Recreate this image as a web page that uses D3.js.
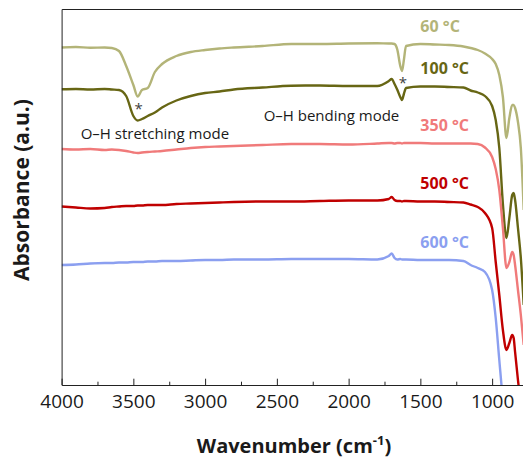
<!DOCTYPE html>
<html><head><meta charset="utf-8">
<script src="https://cdn.jsdelivr.net/npm/d3@7"></script>
<style>
html,body{margin:0;padding:0;background:#fff;}
svg{display:block;font-family:"Open Sans",sans-serif;}
</style>
</head><body>
<svg id="chart" width="523" height="460"></svg>
<script>
// FTIR spectra of the powder after heat treatment (stacked, arbitrary units)
const wavenumbers = [4000,3900,3800,3700,3650,3600,3550,3500,3470,3440,3400,3350,3300,3200,3100,3000,2900,2800,2600,2400,2200,2000,1800,1720,1700,1680,1660,1640,1628,1615,1600,1500,1400,1300,1200,1150,1100,1050,1000,975,950,925,900,880,860,850,840,820,800,780];

const abs60 = [3.375,3.38,3.372,3.375,3.37,3.34,3.19,3.00,2.885,2.95,2.97,3.13,3.21,3.29,3.33,3.35,3.365,3.375,3.39,3.41,3.41,3.415,3.417,3.415,3.415,3.41,3.35,3.19,3.14,3.25,3.39,3.41,3.405,3.40,3.385,3.37,3.35,3.315,3.26,3.21,3.10,2.88,2.47,2.67,2.80,2.80,2.77,2.63,2.37,1.75];

const abs100 = [2.957,2.96,2.955,2.96,2.955,2.95,2.89,2.69,2.645,2.66,2.69,2.725,2.775,2.845,2.89,2.92,2.935,2.955,2.975,2.993,2.995,2.99,2.99,3.04,3.06,3.01,2.95,2.88,2.85,2.91,2.97,2.985,2.985,2.98,2.975,2.945,2.925,2.89,2.79,2.65,2.37,1.81,1.47,1.67,1.90,1.92,1.85,1.57,1.27,0.80];

const abs350 = [2.36,2.355,2.36,2.35,2.355,2.35,2.34,2.325,2.32,2.325,2.33,2.335,2.34,2.355,2.37,2.38,2.385,2.39,2.40,2.41,2.41,2.405,2.415,2.42,2.42,2.415,2.42,2.42,2.415,2.42,2.42,2.42,2.415,2.415,2.415,2.415,2.41,2.375,2.28,2.16,1.95,1.57,1.17,1.23,1.33,1.30,1.20,0.95,0.70,0.40];

const abs500 = [1.785,1.775,1.765,1.77,1.78,1.785,1.79,1.79,1.795,1.795,1.80,1.80,1.80,1.81,1.815,1.82,1.825,1.83,1.835,1.835,1.84,1.845,1.845,1.86,1.88,1.85,1.84,1.84,1.835,1.84,1.84,1.835,1.835,1.83,1.825,1.805,1.78,1.72,1.57,1.23,0.90,0.55,0.35,0.42,0.50,0.47,0.33,0.05,-0.20,-0.45];

const abs600 = [1.20,1.205,1.215,1.22,1.22,1.225,1.225,1.23,1.23,1.23,1.235,1.235,1.24,1.24,1.245,1.25,1.25,1.255,1.255,1.26,1.26,1.26,1.255,1.29,1.315,1.27,1.255,1.26,1.255,1.255,1.255,1.25,1.25,1.25,1.24,1.20,1.17,1.13,0.95,0.67,0.25,-0.15,-0.45,-0.60,-0.70,-0.72,-0.75,-0.80,-0.85,-0.90];

const seriesNames = ["60 °C","100 °C","350 °C","500 °C","600 °C"];
const seriesValues = [abs60, abs100, abs350, abs500, abs600];
const seriesColors = ["#b3b478","#676614","#f07a7a","#c00000","#8b9ff0"];

const majorTicks = [4000,3500,3000,2500,2000,1500,1000];
const minorTicks = [3750,3250,2750,2250,1750,1250];

// bands marked with an asterisk (dips of the 60 °C spectrum)
const markedBands = [3470, 1628];

const W = 523, H = 460;
const plot = {left: 61.6, right: 523.7, top: 9, bottom: 385};

const svg = d3.select("#chart");

const x = d3.scaleLinear().domain([4000, 780]).range([plot.left, plot.right]);
const y = d3.scaleLinear().domain([0, 3.76]).range([plot.bottom, plot.top]);

svg.append("defs").append("clipPath").attr("id", "plot-clip")
  .append("rect")
  .attr("x", plot.left).attr("y", plot.top)
  .attr("width", W - plot.left).attr("height", plot.bottom - plot.top);

// spectra
const line = d3.line()
  .x((d, i) => x(wavenumbers[i]))
  .y(d => y(d))
  .curve(d3.curveMonotoneX);

const lines = svg.append("g").attr("clip-path", "url(#plot-clip)");
seriesValues.forEach((vals, k) => {
  lines.append("path")
    .datum(vals)
    .attr("d", line)
    .attr("fill", "none")
    .attr("stroke", seriesColors[k])
    .attr("stroke-width", 2.4)
    .attr("stroke-linejoin", "round");
});

// frame: left and top edges
svg.append("g").attr("transform", `translate(${plot.left},0)`)
  .call(d3.axisLeft(y).tickValues([]).tickSizeOuter(0))
  .select(".domain").attr("stroke", "#222");
svg.append("g").attr("transform", `translate(0,${plot.top})`)
  .call(d3.axisTop(x).tickValues([]).tickSizeOuter(0))
  .select(".domain").attr("stroke", "#222");

// bottom axis, ticks pointing inward
const xAxis = svg.append("g").attr("transform", `translate(0,${plot.bottom})`)
  .call(d3.axisBottom(x).tickValues(majorTicks).tickSize(-6.3).tickSizeOuter(0)
    .tickPadding(9.5).tickFormat(d3.format("d")));
xAxis.select(".domain").attr("stroke", "#222");
xAxis.selectAll(".tick line").attr("stroke", "#222");
xAxis.selectAll(".tick text")
  .attr("fill", "#1a1a1a")
  .style("font-size", "19px")
  .style("font-family", "'Open Sans', sans-serif");

const xMinor = svg.append("g").attr("transform", `translate(0,${plot.bottom})`)
  .call(d3.axisBottom(x).tickValues(minorTicks).tickSize(-3.3).tickSizeOuter(0).tickFormat(""));
xMinor.select(".domain").remove();
xMinor.selectAll(".tick line").attr("stroke", "#222");

// series labels, just above each spectrum at 1500 cm-1
const iLabel = wavenumbers.indexOf(1500);
seriesValues.forEach((vals, k) => {
  svg.append("text")
    .attr("x", x(1500))
    .attr("y", y(vals[iLabel]) - 12.5)
    .attr("fill", seriesColors[k])
    .style("font-size", "16px")
    .style("font-weight", "bold")
    .text(seriesNames[k]);
});

// asterisks under the O-H bands of the 60 °C spectrum
markedBands.forEach(wn => {
  const i = wavenumbers.indexOf(wn);
  svg.append("text")
    .attr("x", x(wn) + 1)
    .attr("y", y(abs60[i]) + 17)
    .attr("text-anchor", "middle")
    .attr("fill", "#404040")
    .style("font-size", "15px")
    .text("*");
});

// band annotations
svg.append("text")
  .attr("x", x(3867)).attr("y", y(2.457))
  .attr("fill", "#1a1a1a")
  .style("font-size", "15px")
  .text("O\u2013H stretching mode");
svg.append("text")
  .attr("x", x(1647)).attr("y", y(2.643))
  .attr("text-anchor", "end")
  .attr("fill", "#1a1a1a")
  .style("font-size", "15px")
  .text("O\u2013H bending mode");

// axis titles
const xTitle = svg.append("text")
  .attr("x", 294).attr("y", 453)
  .attr("text-anchor", "middle")
  .attr("fill", "#1a1a1a")
  .style("font-size", "20px")
  .style("font-weight", "bold");
xTitle.append("tspan").text("Wavenumber (cm");
xTitle.append("tspan").attr("dy", -8).style("font-size", "13px").text("-1");
xTitle.append("tspan").attr("dy", 8).text(")");

svg.append("text")
  .attr("transform", "translate(29,190) rotate(-90)")
  .attr("text-anchor", "middle")
  .attr("fill", "#1a1a1a")
  .style("font-size", "21px")
  .style("font-weight", "bold")
  .text("Absorbance (a.u.)");
</script>
</body></html>
